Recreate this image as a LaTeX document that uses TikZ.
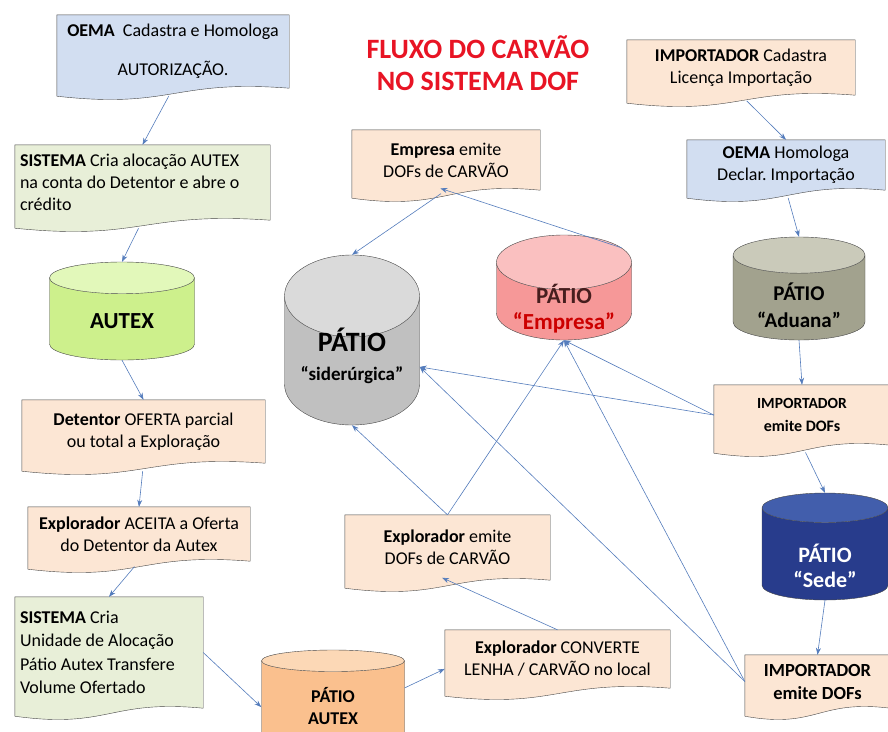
\documentclass[tikz,border=0pt]{standalone}
\usepackage{fontspec}
\setmainfont{Carlito}
\usetikzlibrary{shapes.geometric,arrows.meta,calc,backgrounds}
\frenchspacing

\definecolor{boxblue}{RGB}{210,222,241}
\definecolor{boxgreen}{RGB}{232,239,216}
\definecolor{boxpeach}{RGB}{252,230,212}
\definecolor{boxline}{RGB}{70,70,70}
\definecolor{flowline}{RGB}{84,124,188}
\definecolor{titlered}{RGB}{232,20,36}

% texto do patio, baixado sem mudar o tamanho do cilindro
\newcommand{\patiotext}[2]{\raisebox{-#1pt}[0pt][0pt]{\begin{tabular}{@{}c@{}}#2\end{tabular}}}

\tikzset{
  docbox/.style={draw=none,align=center,inner sep=3pt,font=\fontsize{18}{22}\selectfont},
  cyl/.style={cylinder,shape border rotate=90,anchor=shape center,draw=boxline,cylinder uses custom fill,font=\bfseries},
  flow/.style={draw=flowline,semithick,-{Stealth[length=7pt,width=5pt]}},
}

\begin{document}
\begin{tikzpicture}[x=1pt,y=-1pt]
  \useasboundingbox (0,0) rectangle (888,731);

  \node[font=\fontsize{28}{32}\selectfont\bfseries,text=titlered,align=center] (title) at (478,63) {FLUXO DO CARVÃO\\NO SISTEMA DOF};

  % caixas de documento
  \begin{scope}[every node/.style={docbox}]
    \node[minimum width=232,minimum height=73] (oema1) at (173,51.5) {\textbf{OEMA}~ Cadastra e Homologa\\[17pt]AUTORIZAÇÃO.};
    \node[minimum width=255,minimum height=75,text width=245,align=flush left] (sis1) at (142.5,182.5) {\textbf{SISTEMA} Cria alocação AUTEX\\na conta do Detentor e abre o\\crédito};
    \node[minimum width=243,minimum height=63] (det) at (143.5,431.5) {\textbf{Detentor} OFERTA parcial\\ou total a Exploração};
    \node[minimum width=222,minimum height=54] (acc) at (139,534) {\textbf{Explorador} ACEITA a Oferta\\do Detentor da Autex};
    \node[minimum width=188,minimum height=111,text width=178,align=flush left,font=\fontsize{18}{23.5}\selectfont] (sis2) at (109,652.5) {\textbf{SISTEMA} Cria\\Unidade de Alocação\\Pátio Autex Transfere\\Volume Ofertado};
    \node[minimum width=225,minimum height=58] (conv) at (557.5,659) {\textbf{Explorador} CONVERTE\\LENHA / CARVÃO no local};
    \node[minimum width=205,minimum height=65] (expE) at (447.5,547.5) {\textbf{Explorador} emite\\DOFs de CARVÃO};
    \node[minimum width=188,minimum height=60] (empE) at (446,160) {\textbf{Empresa} emite\\DOFs de CARVÃO};
    \node[minimum width=228,minimum height=55] (impC) at (741,67.5) {\textbf{IMPORTADOR} Cadastra\\Licença Importação};
    \node[minimum width=198,minimum height=50] (oema2) at (786,165) {\textbf{OEMA} Homologa\\Declar. Importação};
    \node[minimum width=176,minimum height=60,font=\fontsize{16}{23}\selectfont\bfseries] (impE1) at (802,415) {{\fontsize{15.5}{20}\selectfont IMPORTADOR}\\emite DOFs};
    \node[minimum width=145,minimum height=53,font=\fontsize{18.5}{23}\selectfont\bfseries] (impE2) at (817.5,681.5) {IMPORTADOR\\emite DOFs};
  \end{scope}

  \begin{scope}[on background layer]
    \foreach \n/\c in {oema1/boxblue,sis1/boxgreen,det/boxpeach,acc/boxpeach,sis2/boxgreen,conv/boxpeach,expE/boxpeach,empE/boxpeach,impC/boxpeach,oema2/boxblue,impE1/boxpeach,impE2/boxpeach}
      \draw[boxline,fill=\c] (\n.north west) -- (\n.north east) -- (\n.south east)
        .. controls ($(\n.south)+(0,-9)$) and ($(\n.south)+(0,21)$) .. ($(\n.south west)+(0,8)$) -- cycle;
  \end{scope}

  % patios
  \begin{scope}[every node/.style={cyl}]
    \node[minimum width=145,minimum height=98,aspect=0.45,cylinder body fill={rgb,255:red,205;green,240;blue,140},cylinder end fill={rgb,255:red,226;green,248;blue,186},font=\fontsize{23}{28}\selectfont\bfseries] (autex) at (122,311) {\patiotext{8}{AUTEX}};
    \node[minimum width=143,minimum height=100,aspect=0.38,cylinder body fill={rgb,255:red,250;green,192;blue,142},cylinder end fill={rgb,255:red,252;green,216;blue,182},font=\fontsize{18}{22}\selectfont\bfseries] (pA) at (333,700) {\patiotext{6}{PÁTIO\\AUTEX}};
    \node[minimum width=135,minimum height=170,aspect=0.75,cylinder body fill={rgb,255:red,192;green,192;blue,192},cylinder end fill={rgb,255:red,218;green,218;blue,218},font=\fontsize{28}{29}\selectfont\bfseries] (sider) at (352,340) {\patiotext{-2}{PÁTIO\\{\fontsize{19}{22}\selectfont “siderúrgica”}}};
    \node[minimum width=135,minimum height=105,aspect=0.5,cylinder body fill={rgb,255:red,246;green,152;blue,152},cylinder end fill={rgb,255:red,250;green,192;blue,192},text={rgb,255:red,70;green,30;blue,30},font=\fontsize{23}{26}\selectfont\bfseries] (empresa) at (564,287.5) {\patiotext{12}{PÁTIO\\{\color{red!80!black}“Empresa”}}};
    \node[minimum width=132,minimum height=103,aspect=0.4,cylinder body fill={rgb,255:red,162;green,162;blue,142},cylinder end fill={rgb,255:red,202;green,202;blue,186},font=\fontsize{21}{27}\selectfont\bfseries] (aduana) at (799,288.5) {\patiotext{13}{PÁTIO\\“Aduana”}};
    \node[minimum width=126,minimum height=107,aspect=0.42,cylinder body fill={rgb,255:red,40;green,60;blue,140},cylinder end fill={rgb,255:red,66;green,94;blue,172},text=white,font=\fontsize{22}{25}\selectfont\bfseries] (sede) at (825,546.5) {\patiotext{18}{PÁTIO\\“Sede”}};
  \end{scope}

  % fluxos
  \begin{scope}[every edge/.style={flow}]
    \path (oema1.south) edge[shorten <=9pt] (sis1.north);
    \path (sis1.south) edge[shorten <=9pt] (autex.north);
    \path (autex.south) edge (det.north);
    \path (det.south) edge[shorten <=8pt] (acc.north);
    \path (acc.south) edge[shorten <=7pt] (sis2.north);
    \path (sis2.east) edge (pA.west);
    \path (pA.15) edge (conv.185);
    \path (conv.north) edge[shorten >=-6pt] (expE.south);
    \path (expE.north) edge (sider.south);
    \path (expE.north) edge (empresa.south);
    \path (empresa.45) edge[shorten >=-6pt] (empE.south);
    \path (empE.south) edge[shorten <=6pt] (sider.north);
    \path (impC.south) edge[shorten <=8pt] (oema2.north);
    \path (oema2.south) edge[shorten <=8pt] (aduana.north);
    \path (aduana.south) edge (impE1.north);
    \path (impE1.west) edge (sider.east);
    \path (impE1.west) edge (empresa.south);
    \path (impE1.south) edge[shorten <=8pt] (sede.north);
    \path (sede.south) edge (impE2.north);
    \path (impE2.west) edge (sider.east);
    \path (impE2.west) edge (empresa.south);
  \end{scope}
\end{tikzpicture}
\end{document}
